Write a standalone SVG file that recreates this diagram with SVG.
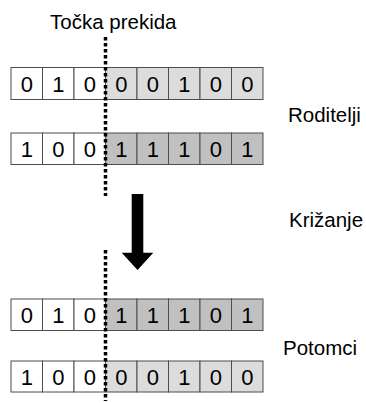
<svg xmlns="http://www.w3.org/2000/svg" width="366" height="403" viewBox="0 0 366 403">
<style>
.c{stroke:#4d4d4d;stroke-width:1}
.w{fill:#ffffff}
.l{fill:#dcdcdc}
.d{fill:#c0c0c0}
.t{font-family:"Liberation Sans",Arial,sans-serif;font-size:22px;fill:#000;text-anchor:middle}
.lb{font-family:"Liberation Sans",Arial,sans-serif;font-size:20.5px;fill:#000}
.cut{stroke:#000;stroke-width:3.5;stroke-dasharray:3.5 2.5;fill:none}
</style>
<rect width="366" height="403" fill="#fff"/>
<g id="label-tocka"><text class="lb" x="50" y="29">Točka prekida</text></g>
<g id="row1">
<rect class="c w" x="11" y="67.5" width="31.5" height="32"/>
<rect class="c w" x="42.5" y="67.5" width="31.5" height="32"/>
<rect class="c w" x="74" y="67.5" width="31.5" height="32"/>
<rect class="c l" x="105.5" y="67.5" width="31.5" height="32"/>
<rect class="c l" x="137" y="67.5" width="31.5" height="32"/>
<rect class="c l" x="168.5" y="67.5" width="31.5" height="32"/>
<rect class="c l" x="200" y="67.5" width="31.5" height="32"/>
<rect class="c l" x="231.5" y="67.5" width="31.5" height="32"/>
<text class="t" y="91.5"><tspan x="26.75">0</tspan><tspan x="58.25">1</tspan><tspan x="89.75">0</tspan><tspan x="121.25">0</tspan><tspan x="152.75">0</tspan><tspan x="184.25">1</tspan><tspan x="215.75">0</tspan><tspan x="247.25">0</tspan></text>
</g>
<g id="label-roditelji"><text class="lb" x="288" y="122">Roditelji</text></g>
<g id="row2">
<rect class="c w" x="11" y="133" width="31.5" height="31.5"/>
<rect class="c w" x="42.5" y="133" width="31.5" height="31.5"/>
<rect class="c w" x="74" y="133" width="31.5" height="31.5"/>
<rect class="c d" x="105.5" y="133" width="31.5" height="31.5"/>
<rect class="c d" x="137" y="133" width="31.5" height="31.5"/>
<rect class="c d" x="168.5" y="133" width="31.5" height="31.5"/>
<rect class="c d" x="200" y="133" width="31.5" height="31.5"/>
<rect class="c d" x="231.5" y="133" width="31.5" height="31.5"/>
<text class="t" y="157"><tspan x="26.75">1</tspan><tspan x="58.25">0</tspan><tspan x="89.75">0</tspan><tspan x="121.25">1</tspan><tspan x="152.75">1</tspan><tspan x="184.25">1</tspan><tspan x="215.75">0</tspan><tspan x="247.25">1</tspan></text>
</g>
<g id="arrow"><path d="M131.7 194 H143.3 V252.7 H153.3 L137.5 270 L121.7 252.7 H131.7 Z" fill="#000"/></g>
<g id="label-krizanje"><text class="lb" x="289" y="227">Križanje</text></g>
<g id="row3">
<rect class="c w" x="11" y="299" width="31.5" height="31.5"/>
<rect class="c w" x="42.5" y="299" width="31.5" height="31.5"/>
<rect class="c w" x="74" y="299" width="31.5" height="31.5"/>
<rect class="c d" x="105.5" y="299" width="31.5" height="31.5"/>
<rect class="c d" x="137" y="299" width="31.5" height="31.5"/>
<rect class="c d" x="168.5" y="299" width="31.5" height="31.5"/>
<rect class="c d" x="200" y="299" width="31.5" height="31.5"/>
<rect class="c d" x="231.5" y="299" width="31.5" height="31.5"/>
<text class="t" y="323"><tspan x="26.75">0</tspan><tspan x="58.25">1</tspan><tspan x="89.75">0</tspan><tspan x="121.25">1</tspan><tspan x="152.75">1</tspan><tspan x="184.25">1</tspan><tspan x="215.75">0</tspan><tspan x="247.25">1</tspan></text>
</g>
<g id="label-potomci"><text class="lb" x="283" y="355">Potomci</text></g>
<g id="row4">
<rect class="c w" x="11" y="361" width="31.5" height="31"/>
<rect class="c w" x="42.5" y="361" width="31.5" height="31"/>
<rect class="c w" x="74" y="361" width="31.5" height="31"/>
<rect class="c l" x="105.5" y="361" width="31.5" height="31"/>
<rect class="c l" x="137" y="361" width="31.5" height="31"/>
<rect class="c l" x="168.5" y="361" width="31.5" height="31"/>
<rect class="c l" x="200" y="361" width="31.5" height="31"/>
<rect class="c l" x="231.5" y="361" width="31.5" height="31"/>
<text class="t" y="384.5"><tspan x="26.75">1</tspan><tspan x="58.25">0</tspan><tspan x="89.75">0</tspan><tspan x="121.25">0</tspan><tspan x="152.75">0</tspan><tspan x="184.25">1</tspan><tspan x="215.75">0</tspan><tspan x="247.25">0</tspan></text>
</g>
<g id="connectors">
<line class="cut" x1="105.5" y1="37" x2="105.5" y2="196"/>
<line class="cut" x1="105.5" y1="250" x2="105.5" y2="401"/>
</g>
</svg>
